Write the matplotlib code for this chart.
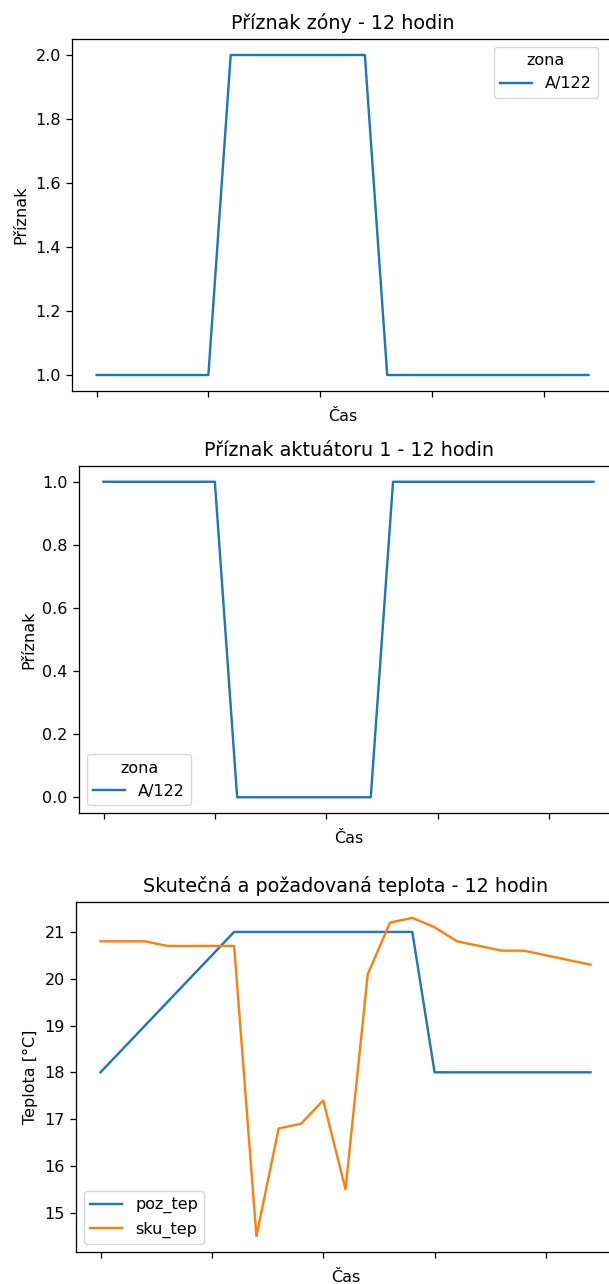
import matplotlib
matplotlib.use('Agg')
import matplotlib.pyplot as plt
import numpy as np

# samples over the last 12 hours
vzorky = np.arange(23)

priznak_zony = [1, 1, 1, 1, 1, 1, 2, 2, 2, 2, 2, 2, 2, 1, 1, 1, 1, 1, 1, 1, 1, 1, 1]
priznak_akt = [1, 1, 1, 1, 1, 1, 0, 0, 0, 0, 0, 0, 0, 1, 1, 1, 1, 1, 1, 1, 1, 1, 1]

poz_tep = [18.0, 18.5, 19.0, 19.5, 20.0, 20.5, 21.0, 21.0, 21.0, 21.0, 21.0, 21.0,
           21.0, 21.0, 21.0, 18.0, 18.0, 18.0, 18.0, 18.0, 18.0, 18.0, 18.0]
sku_tep = [20.8, 20.8, 20.8, 20.7, 20.7, 20.7, 20.7, 14.5, 16.8, 16.9, 17.4, 15.5,
           20.1, 21.2, 21.3, 21.1, 20.8, 20.7, 20.6, 20.6, 20.5, 20.4, 20.3]

zona = 'A/122'
tick_idx = [0, 5, 10, 15, 20]

# everything drawn a bit larger than the defaults
k = 1.15
plt.rcParams.update({
    'font.size': 10 * k,
    'lines.linewidth': 1.5 * k,
    'axes.linewidth': 0.8 * k,
    'xtick.major.size': 3.5 * k,
    'ytick.major.size': 3.5 * k,
    'xtick.major.width': 0.8 * k,
    'ytick.major.width': 0.8 * k,
    'xtick.major.pad': 3.5 * k,
    'ytick.major.pad': 3.5 * k,
    'axes.labelpad': 4.0 * k,
    'axes.titlepad': 6.0 * k,
})

W, H = 609, 1284
fig = plt.figure(figsize=(W / 100, H / 100), dpi=100)


def add_ax(left, top, right, bottom):
    # axes rectangle given in pixels from the top-left corner
    return fig.add_axes([left / W, 1 - bottom / H, (right - left) / W, (bottom - top) / H])


def finish(ax, title, ylabel):
    ax.set_title(title, fontsize=12 * k)
    ax.set_xlabel('Čas')
    ax.set_ylabel(ylabel)
    ax.set_xticks(tick_idx)
    ax.set_xticklabels([''] * len(tick_idx))


ax1 = add_ax(72, 39, 613, 391)
ax1.plot(vzorky, priznak_zony, color='tab:blue', label=zona)
ax1.legend(title='zona', loc='upper right', bbox_to_anchor=(0.987, 1))
finish(ax1, 'Příznak zóny - 12 hodin', 'Příznak')

ax2 = add_ax(79, 466, 618, 813)
ax2.plot(vzorky, priznak_akt, color='tab:blue', label=zona)
ax2.legend(title='zona', loc='lower left')
finish(ax2, 'Příznak aktuátoru 1 - 12 hodin', 'Příznak')

ax3 = add_ax(76, 902, 615, 1252)
ax3.plot(vzorky, poz_tep, color='tab:blue', label='poz_tep')
ax3.plot(vzorky, sku_tep, color='tab:orange', label='sku_tep')
ax3.legend(loc='lower left')
finish(ax3, 'Skutečná a požadovaná teplota - 12 hodin', 'Teplota [°C]')

fig.savefig('out.png', dpi=100)
